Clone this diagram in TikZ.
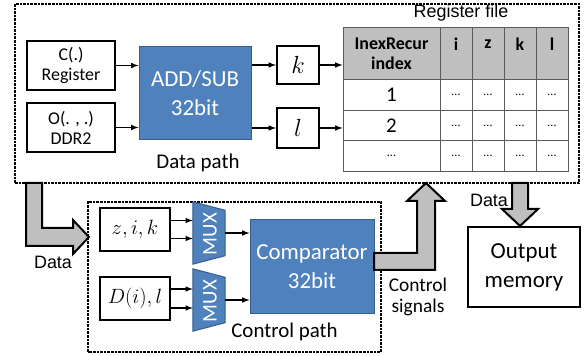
\documentclass[tikz,border=0pt]{standalone}
\usepackage{fontspec}
\setmainfont{Carlito}
\newfontfamily\arialfont{Liberation Sans}
\definecolor{blkfill}{RGB}{79,129,189}
\definecolor{blkline}{RGB}{56,93,138}
\definecolor{fatgray}{RGB}{191,191,191}
\definecolor{hdgray}{RGB}{191,191,191}
\definecolor{gridline}{RGB}{90,90,90}
\newcommand\dotsfont{\fontsize{12}{12}\selectfont}
\begin{document}
\begin{tikzpicture}[>=latex,line join=miter,
  dotbox/.style={draw=black,line width=2.3bp,dash pattern=on 2.6bp off 1bp},
  box/.style={draw=black,line width=2bp,fill=white,inner sep=0pt,align=center},
  blk/.style={draw=blkline,line width=1bp,fill=blkfill,text=white,inner sep=0pt,align=center,font=\fontsize{23}{29}\selectfont},
  muxframe/.style={rectangle,minimum width=32bp,minimum height=62bp,inner sep=0pt},
  muxbody/.style={draw=blkline,line width=1bp,fill=blkfill},
  muxtext/.style={rotate=90,text=white,inner sep=0pt,font=\fontsize{21}{21}\selectfont},
  hdcell/.style={draw=gridline,line width=1bp,fill=hdgray,minimum height=52bp,inner sep=0pt,align=center,
    font=\bfseries\fontsize{18}{20}\selectfont},
  cell/.style={draw=gridline,line width=1bp,fill=white,minimum height=30.5bp,inner sep=0pt,
    font=\fontsize{21}{21}\selectfont},
  wire/.style={black,line width=1.5bp},
  fat/.style={draw=black,line width=2bp,fill=fatgray},
  lbl/.style={inner sep=0pt,align=center},
]
\useasboundingbox (0bp,0bp) rectangle (584bp,356bp);
%% data path
\draw [dotbox] (15bp,173bp) rectangle (579bp,352bp);
\node (creg) at (71bp,290.5bp) [box,minimum width=88bp,minimum height=49bp,font=\fontsize{18}{20}\selectfont] {C(.)\\Register};
\node (oddr) at (71bp,228.5bp) [box,minimum width=88bp,minimum height=49bp,font=\fontsize{18}{20}\selectfont] {O(. , .)\\DDR2};
\node (addsub) at (195bp,262.5bp) [blk,minimum width=112bp,minimum height=93bp] {ADD/SUB\\32bit};
\node (kbox) at (298bp,291bp) [box,minimum width=42bp,minimum height=38bp,font=\fontsize{25}{25}\selectfont] {$k$};
\node (lbox) at (298bp,228bp) [box,minimum width=42bp,minimum height=40bp,font=\fontsize{25}{25}\selectfont] {$l$};
\node (dplabel) at (198bp,193bp) [lbl,font=\fontsize{21}{21}\selectfont] {Data path};
%
\draw [wire,->] (creg.east) -- (creg.east -| addsub.west);
\draw [wire,->] (oddr.east) -- (oddr.east -| addsub.west);
\draw [wire,->] (kbox.west -| addsub.east) -- (kbox.west);
\draw [wire,->] (lbox.west -| addsub.east) -- (lbox.west);
%% register file
\node (regfile) at (461bp,343bp) [lbl,font=\arialfont\fontsize{18}{18}\selectfont] {Register file};
\node (hd0) at (391.5bp,302bp) [hdcell,minimum width=97bp] {InexRecur\\index};
\foreach \x/\t [count=\c] in {456/i,488/z,520/k,552/l}
  \node (hd\c) at (\x bp,302bp) [hdcell,minimum width=32bp] {\t\\\mbox{}};
\foreach \y/\t [count=\r] in {260.75/1,230.25/2,199.75/{\dotsfont...}} {
  \node (r\r c0) at (391.5bp,\y bp) [cell,minimum width=97bp] {\t};
  \foreach \x [count=\c] in {456,488,520,552}
    \node (r\r c\c) at (\x bp,\y bp) [cell,minimum width=32bp] {\dotsfont...};
}
\draw [wire,->] (kbox.east) -- (kbox.east -| hd0.west);
\draw [wire,->] (lbox.east) -- (lbox.east -| hd0.west);
%% control path
\draw [dotbox] (88bp,4bp) rectangle (381bp,154bp);
\node (zik) at (135bp,126.5bp) [box,minimum width=70bp,minimum height=43bp,font=\fontsize{21}{21}\selectfont] {$z,i,k$};
\node (dil) at (135bp,57.5bp) [box,minimum width=70bp,minimum height=43bp,font=\fontsize{21}{21}\selectfont] {$D(i),l$};
% multiplexers: trapezoid, long side facing the inputs
\foreach \m/\y in {mux1/123,mux2/56} {
  \node (\m) at (209bp,\y bp) [muxframe] {};
  \draw [muxbody] (\m.north west) -- ([yshift=-8.5bp]\m.north east) -- ([yshift=8.5bp]\m.south east)
    -- (\m.south west) -- cycle;
  \node (\m txt) at ([xshift=1bp,yshift=-1bp]\m.center) [muxtext] {MUX};
}
\node (cmp) at (312bp,89bp) [blk,minimum width=124bp,minimum height=94bp] {Comparator\\32bit};
\node (cplabel) at (284.5bp,24bp) [lbl,font=\fontsize{21}{21}\selectfont] {Control path};
%
\draw [wire,->] ([yshift=9bp]zik.east) -- ([yshift=9bp]zik.east -| mux1.west);
\draw [wire,->] ([yshift=-9bp]zik.east) -- ([yshift=-9bp]zik.east -| mux1.west);
\draw [wire,->] ([yshift=9.5bp]dil.east) -- ([yshift=9.5bp]dil.east -| mux2.west);
\draw [wire,->] ([yshift=-9.5bp]dil.east) -- ([yshift=-9.5bp]dil.east -| mux2.west);
\draw [wire,->] (mux1.east) -- (mux1.east -| cmp.west);
\draw [wire,->] (mux2.east) -- (mux2.east -| cmp.west);
%% output memory
\node (outmem) at (524bp,89bp) [box,minimum width=112bp,minimum height=80bp,font=\fontsize{23}{29}\selectfont] {Output\\memory};
%% wide arrows between the blocks
\draw [fat] (26bp,173bp) -- (42bp,173bp) -- (42bp,128bp) -- (73bp,128bp) -- (73bp,136bp)
  -- (89bp,119bp) -- (73bp,102bp) -- (73bp,110bp) -- (26bp,110bp) -- cycle;
\node (datain) at (53bp,94bp) [lbl,font=\arialfont\fontsize{18}{18}\selectfont] {Data};
\draw [fat] (374bp,103bp) -- (417bp,103bp) -- (417bp,155bp) -- (407bp,155bp) -- (426bp,173bp)
  -- (445bp,155bp) -- (435bp,155bp) -- (435bp,86bp) -- (374bp,86bp) -- cycle;
\node (ctrlsig) at (418bp,59bp) [lbl,font=\fontsize{19.5}{21}\selectfont] {Control\\signals};
\draw [fat] (512bp,173bp) -- (528bp,173bp) -- (528bp,147bp) -- (538bp,147bp) -- (520bp,130bp)
  -- (502bp,147bp) -- (512bp,147bp) -- cycle;
\node (dataout) at (489bp,156bp) [lbl,font=\arialfont\fontsize{18}{18}\selectfont] {Data};
%
\end{tikzpicture}
\end{document}
